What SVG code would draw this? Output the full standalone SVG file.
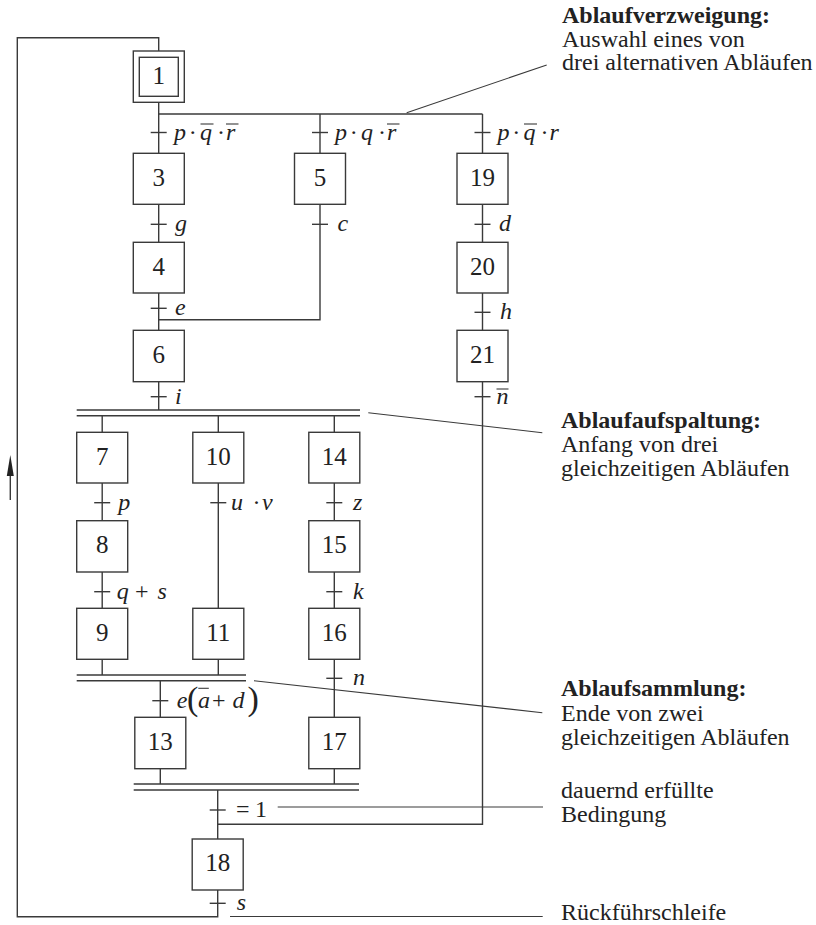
<svg xmlns="http://www.w3.org/2000/svg" width="816" height="925" viewBox="0 0 816 925">
<defs>
<style>
.ln{stroke:#3a3a3a;stroke-width:1.4;fill:none}
.thin{stroke:#3a3a3a;stroke-width:1.1;fill:none}
.box{stroke:#3a3a3a;stroke-width:1.4;fill:#fff}
.num{font-family:"Liberation Serif","Times New Roman",serif;font-size:25px;fill:#222;text-anchor:middle}
.lab{font-family:"Liberation Serif","Times New Roman",serif;font-size:24px;fill:#222;font-style:italic}
.rom{font-family:"Liberation Serif","Times New Roman",serif;font-size:24px;fill:#222}
.ann{font-family:"Liberation Serif","Times New Roman",serif;font-size:24px;fill:#222}
.bold{font-weight:bold}
</style>
</defs>
<rect width="816" height="925" fill="#fff"/>

<g id="connectors">
  <polyline class="ln" points="158.7,51 158.7,37.7 17.3,37.7 17.3,916.7 217.7,916.7 217.7,890"/>
  <line class="ln" x1="158.7" y1="102.3" x2="158.7" y2="153.3"/>
  <line class="ln" x1="158.7" y1="114" x2="482.5" y2="114"/>
  <line class="ln" x1="320" y1="114" x2="320" y2="153.3"/>
  <line class="ln" x1="482.5" y1="114" x2="482.5" y2="153.3"/>
  <line class="ln" x1="158.7" y1="204.3" x2="158.7" y2="242.3"/>
  <line class="ln" x1="158.7" y1="293" x2="158.7" y2="330.3"/>
  <line class="ln" x1="158.7" y1="381.7" x2="158.7" y2="410"/>
  <polyline class="ln" points="320,204.3 320,319.7 158.7,319.7"/>
  <line class="ln" x1="482.5" y1="204.3" x2="482.5" y2="242.3"/>
  <line class="ln" x1="482.5" y1="293" x2="482.5" y2="330.3"/>
  <polyline class="ln" points="482.5,381.7 482.5,824.3 217.7,824.3"/>
  <line class="ln" x1="76.7" y1="410" x2="360" y2="410"/>
  <line class="ln" x1="76.7" y1="415.7" x2="360" y2="415.7"/>
  <line class="ln" x1="102.2" y1="415.7" x2="102.2" y2="432.3"/>
  <line class="ln" x1="218.3" y1="415.7" x2="218.3" y2="432.3"/>
  <line class="ln" x1="334.3" y1="415.7" x2="334.3" y2="432.3"/>
  <line class="ln" x1="102.2" y1="483" x2="102.2" y2="520.7"/>
  <line class="ln" x1="102.2" y1="572" x2="102.2" y2="608.3"/>
  <line class="ln" x1="102.2" y1="659.3" x2="102.2" y2="675"/>
  <line class="ln" x1="218.3" y1="483" x2="218.3" y2="608.3"/>
  <line class="ln" x1="218.3" y1="659.3" x2="218.3" y2="675"/>
  <line class="ln" x1="334.3" y1="483" x2="334.3" y2="520.7"/>
  <line class="ln" x1="334.3" y1="572" x2="334.3" y2="608.3"/>
  <line class="ln" x1="334.3" y1="659.3" x2="334.3" y2="717.3"/>
  <line class="ln" x1="334.3" y1="768.7" x2="334.3" y2="784"/>
  <line class="ln" x1="76.7" y1="675" x2="246" y2="675"/>
  <line class="ln" x1="76.7" y1="680.7" x2="246" y2="680.7"/>
  <line class="ln" x1="160.3" y1="680.7" x2="160.3" y2="717.3"/>
  <line class="ln" x1="160.3" y1="768.7" x2="160.3" y2="784"/>
  <line class="ln" x1="133.7" y1="784" x2="359" y2="784"/>
  <line class="ln" x1="133.7" y1="790" x2="359" y2="790"/>
  <line class="ln" x1="217.7" y1="790" x2="217.7" y2="839"/>
  <g class="ln">
    <line x1="150.7" y1="132.5" x2="166.7" y2="132.5"/>
    <line x1="312" y1="132.5" x2="328" y2="132.5"/>
    <line x1="474.5" y1="132.5" x2="490.5" y2="132.5"/>
    <line x1="150.7" y1="224.3" x2="166.7" y2="224.3"/>
    <line x1="312" y1="224.3" x2="328" y2="224.3"/>
    <line x1="474.5" y1="224.3" x2="490.5" y2="224.3"/>
    <line x1="150.7" y1="308.3" x2="166.7" y2="308.3"/>
    <line x1="474.5" y1="312.3" x2="490.5" y2="312.3"/>
    <line x1="150.7" y1="396.7" x2="166.7" y2="396.7"/>
    <line x1="474.5" y1="396.7" x2="490.5" y2="396.7"/>
    <line x1="94.2" y1="502.7" x2="110.2" y2="502.7"/>
    <line x1="210.3" y1="502.7" x2="226.3" y2="502.7"/>
    <line x1="326.3" y1="502.7" x2="342.3" y2="502.7"/>
    <line x1="94.2" y1="591.7" x2="110.2" y2="591.7"/>
    <line x1="326.3" y1="591.7" x2="342.3" y2="591.7"/>
    <line x1="326.3" y1="678.3" x2="342.3" y2="678.3"/>
    <line x1="152.3" y1="700.7" x2="168.3" y2="700.7"/>
    <line x1="209.7" y1="810" x2="225.7" y2="810"/>
    <line x1="209.7" y1="903.3" x2="225.7" y2="903.3"/>
  </g>
  <g class="thin">
    <line x1="406.7" y1="112.7" x2="546.7" y2="65"/>
    <line x1="368.3" y1="412.7" x2="542.3" y2="432.7"/>
    <line x1="254" y1="680.7" x2="542.3" y2="712.7"/>
    <line x1="277.7" y1="807" x2="543" y2="807"/>
    <line x1="230" y1="916.5" x2="542.7" y2="916.5"/>
  </g>
  <line class="ln" x1="10.3" y1="500" x2="10.3" y2="470"/>
  <polygon points="10.3,455 6.8,476 13.8,476" fill="#222"/>
</g>

<g id="s1"><rect class="box" x="133.3" y="51" width="51" height="51.3"/><rect class="box" x="139.3" y="57.3" width="39" height="39"/><text class="num" x="158.7" y="83.7">1</text></g>
<g id="s3"><rect class="box" x="133.3" y="153.3" width="51" height="51"/><text class="num" x="158.7" y="185.7">3</text></g>
<g id="s4"><rect class="box" x="133.3" y="242.3" width="51" height="50.7"/><text class="num" x="158.7" y="274.6">4</text></g>
<g id="s6"><rect class="box" x="133.3" y="330.3" width="51" height="51.4"/><text class="num" x="158.7" y="362.9">6</text></g>
<g id="s5"><rect class="box" x="294.5" y="153.3" width="51" height="51"/><text class="num" x="320" y="185.7">5</text></g>
<g id="s19"><rect class="box" x="457" y="153.3" width="51" height="51"/><text class="num" x="482.5" y="185.7">19</text></g>
<g id="s20"><rect class="box" x="457" y="242.3" width="51" height="50.7"/><text class="num" x="482.5" y="274.6">20</text></g>
<g id="s21"><rect class="box" x="457" y="330.3" width="51" height="51.4"/><text class="num" x="482.5" y="362.9">21</text></g>
<g id="s7"><rect class="box" x="76.7" y="432.3" width="51" height="50.7"/><text class="num" x="102.2" y="464.6">7</text></g>
<g id="s10"><rect class="box" x="192.8" y="432.3" width="51" height="50.7"/><text class="num" x="218.3" y="464.6">10</text></g>
<g id="s14"><rect class="box" x="308.8" y="432.3" width="51" height="50.7"/><text class="num" x="334.3" y="464.6">14</text></g>
<g id="s8"><rect class="box" x="76.7" y="520.7" width="51" height="51.3"/><text class="num" x="102.2" y="553.2">8</text></g>
<g id="s15"><rect class="box" x="308.8" y="520.7" width="51" height="51.3"/><text class="num" x="334.3" y="553.2">15</text></g>
<g id="s9"><rect class="box" x="76.7" y="608.3" width="51" height="51"/><text class="num" x="102.2" y="640.7">9</text></g>
<g id="s11"><rect class="box" x="192.8" y="608.3" width="51" height="51"/><text class="num" x="218.3" y="640.7">11</text></g>
<g id="s16"><rect class="box" x="308.8" y="608.3" width="51" height="51"/><text class="num" x="334.3" y="640.7">16</text></g>
<g id="s13"><rect class="box" x="134.8" y="717.3" width="51" height="51.4"/><text class="num" x="160.3" y="749.9">13</text></g>
<g id="s17"><rect class="box" x="308.8" y="717.3" width="51" height="51.4"/><text class="num" x="334.3" y="749.9">17</text></g>
<g id="s18"><rect class="box" x="192.2" y="839" width="51" height="51"/><text class="num" x="217.7" y="871.4">18</text></g>

<g id="labels">
  <text class="lab" y="139.5"><tspan x="174">p</tspan><tspan x="188.7" font-style="normal">·</tspan><tspan x="200">q</tspan><tspan x="217" font-style="normal">·</tspan><tspan x="226">r</tspan></text>
  <text class="lab" y="139.5"><tspan x="335">p</tspan><tspan x="349.7" font-style="normal">·</tspan><tspan x="361">q</tspan><tspan x="378" font-style="normal">·</tspan><tspan x="387">r</tspan></text>
  <text class="lab" y="139.5"><tspan x="497.5">p</tspan><tspan x="512.2" font-style="normal">·</tspan><tspan x="523.5">q</tspan><tspan x="540.5" font-style="normal">·</tspan><tspan x="549.5">r</tspan></text>
  <g class="thin">
    <line x1="200.5" y1="124" x2="213.5" y2="124"/>
    <line x1="226" y1="124" x2="238.5" y2="124"/>
    <line x1="387" y1="124" x2="399.5" y2="124"/>
    <line x1="524" y1="124" x2="537" y2="124"/>
    <line x1="496.5" y1="389" x2="508.5" y2="389"/>
    <line x1="198.3" y1="688.3" x2="208.8" y2="688.3"/>
  </g>
  <text class="lab" x="175" y="231.3">g</text>
  <text class="lab" x="337.5" y="231.3">c</text>
  <text class="lab" x="499" y="231.3">d</text>
  <text class="lab" x="175" y="315.3">e</text>
  <text class="lab" x="500" y="319.3">h</text>
  <text class="lab" x="175" y="403.7">i</text>
  <text class="lab" x="496.5" y="403.7">n</text>
  <text class="lab" x="118.3" y="509.7">p</text>
  <text class="lab" y="509.7"><tspan x="231">u</tspan><tspan x="252.5" font-style="normal">·</tspan><tspan x="262">v</tspan></text>
  <text class="lab" x="353" y="509.7">z</text>
  <text class="lab" y="598.7"><tspan x="116.7">q</tspan><tspan x="135" font-style="normal">+</tspan><tspan x="157.5">s</tspan></text>
  <text class="lab" x="353" y="598.7">k</text>
  <text class="lab" x="353" y="685.3">n</text>
  <text class="lab" y="708"><tspan x="176.7">e</tspan><tspan x="187" font-size="34" font-style="normal" dy="2">(</tspan><tspan x="198" dy="-2">a</tspan><tspan x="212" font-style="normal">+</tspan><tspan x="232.5">d</tspan><tspan x="247.5" font-size="34" font-style="normal" dy="2">)</tspan></text>
  <text class="rom" y="817"><tspan x="236">=</tspan><tspan x="255">1</tspan></text>
  <text class="lab" x="236.7" y="910.3">s</text>
</g>

<g id="annotations">
  <text class="ann bold" x="562" y="23">Ablaufverzweigung:</text>
  <text class="ann" x="562" y="46.5">Auswahl eines von</text>
  <text class="ann" x="562" y="70">drei alternativen Abläufen</text>
  <text class="ann bold" x="561" y="428">Ablaufaufspaltung:</text>
  <text class="ann" x="561" y="451.7">Anfang von drei</text>
  <text class="ann" x="561" y="476">gleichzeitigen Abläufen</text>
  <text class="ann bold" x="561" y="696">Ablaufsammlung:</text>
  <text class="ann" x="561" y="720.5">Ende von zwei</text>
  <text class="ann" x="561" y="745">gleichzeitigen Abläufen</text>
  <text class="ann" x="561" y="798">dauernd erfüllte</text>
  <text class="ann" x="561" y="822">Bedingung</text>
  <text class="ann" x="561" y="920">Rückführschleife</text>
</g>
</svg>
